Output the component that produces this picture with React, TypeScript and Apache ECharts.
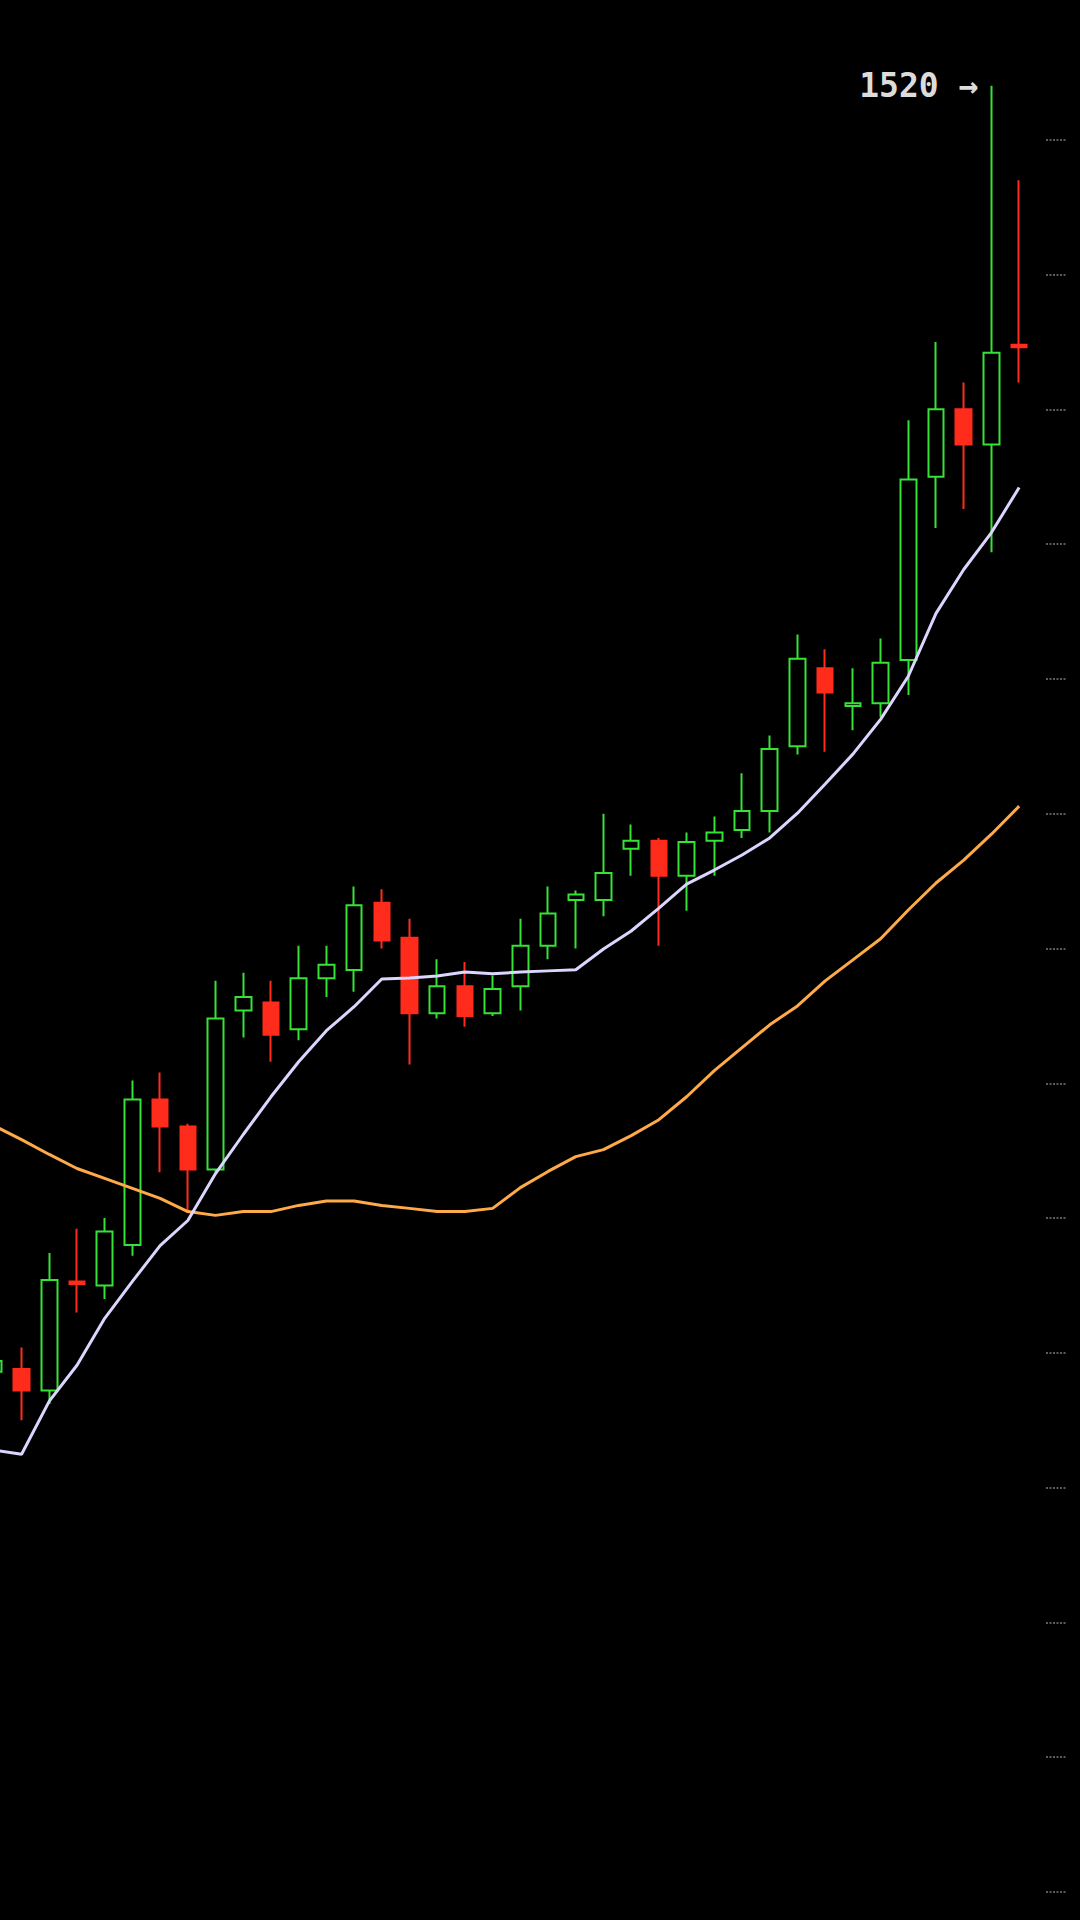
import React, { useEffect, useRef } from "react";
import * as echarts from "echarts";

const days = [
  "1", "2", "3", "4", "5", "6", "7", "8", "9", "10",
  "11", "12", "13", "14", "15", "16", "17", "18", "19", "20",
  "21", "22", "23", "24", "25", "26", "27", "28", "29", "30",
  "31", "32", "33", "34", "35", "36", "37", "38",
];

// [open, close, low, high]
const candles = [
  [1043, 1047, 1039, 1051],
  [1044, 1036, 1025, 1052],
  [1036, 1077, 1031, 1087],
  [1076.5, 1075.5, 1065, 1096],
  [1075, 1095, 1070, 1100],
  [1090, 1144, 1086, 1151],
  [1144, 1134, 1117, 1154],
  [1134, 1118, 1102, 1135],
  [1118, 1174, 1117, 1188],
  [1177, 1182, 1167, 1191],
  [1180, 1168, 1158, 1188],
  [1170, 1189, 1166, 1201],
  [1189, 1194, 1182, 1201],
  [1192, 1216, 1184, 1223],
  [1217, 1203, 1200, 1222],
  [1204, 1176, 1157, 1211],
  [1176, 1186, 1174, 1196],
  [1186, 1175, 1171, 1195],
  [1176, 1185, 1175, 1190],
  [1186, 1201, 1177, 1211],
  [1201, 1213, 1196, 1223],
  [1218, 1220, 1200, 1221.5],
  [1218, 1228, 1212, 1250],
  [1237, 1240, 1227, 1246],
  [1240, 1227, 1201, 1241],
  [1227, 1239.5, 1214, 1243],
  [1240, 1243, 1227, 1249],
  [1244, 1251, 1241, 1265],
  [1251, 1274, 1243, 1279],
  [1275, 1307.5, 1272, 1316.5],
  [1304, 1295, 1273, 1311],
  [1290, 1291, 1281, 1304],
  [1291, 1306, 1286, 1315],
  [1307, 1374, 1294, 1396],
  [1375, 1400, 1356, 1425],
  [1400, 1387, 1363, 1410],
  [1387, 1421, 1347, 1520],
  [1424, 1423, 1410, 1485],
];

const maFast = [
  1013.9, 1012.4, 1032.1, 1045.4, 1062.8, 1076.5, 1089.8, 1099.1, 1116.5, 1131.0,
  1145.0, 1158.0, 1169.5, 1178.4, 1188.7, 1189.1, 1189.8, 1191.3, 1190.6, 1191.3,
  1191.7, 1192.1, 1199.8, 1206.5, 1215.0, 1223.9, 1229.1, 1234.7, 1241.0, 1250.2,
  1261.0, 1272.1, 1285.0, 1301.0, 1324.3, 1340.6, 1354.3, 1371.0,
];

const maSlow = [
  1134.3, 1129.1, 1123.6, 1118.4, 1114.7, 1111.0, 1107.3, 1102.4, 1101.0, 1102.4,
  1102.4, 1104.7, 1106.3, 1106.3, 1104.7, 1103.6, 1102.4, 1102.4, 1103.6, 1111.3,
  1117.3, 1122.8, 1125.4, 1130.6, 1136.5, 1145.0, 1154.7, 1163.2, 1171.7, 1178.7,
  1188.0, 1195.8, 1203.6, 1214.3, 1224.3, 1232.8, 1242.4, 1252.8,
];

const yTicks = [850, 900, 950, 1000, 1050, 1100, 1150, 1200, 1250, 1300, 1350, 1400, 1450, 1500];

const UP = "#36e236";
const DOWN = "#ff2c1c";

const App: React.FC = () => {
  const chartRef = useRef<HTMLDivElement>(null);

  useEffect(() => {
    document.body.style.margin = "0";
    document.body.style.background = "#000";
    if (!chartRef.current) return;
    const chart = echarts.init(chartRef.current, null, { renderer: "svg" });

    chart.setOption({
      animation: false,
      backgroundColor: "#000000",
      // the chart box starts 20.5px left of the page so the first candle is cut off
      grid: { left: 0, right: 48, top: 5, bottom: 28 },
      xAxis: {
        type: "category",
        data: days,
        boundaryGap: true,
        axisLine: { show: false },
        axisTick: { show: false },
        axisLabel: { show: false },
        splitLine: { show: false },
      },
      yAxis: {
        type: "value",
        position: "right",
        offset: 13,
        min: 850,
        max: 1550,
        interval: 50,
        axisLine: { show: false },
        axisLabel: { show: false },
        splitLine: { show: false },
        axisTick: {
          show: true,
          inside: false,
          length: 20,
          customValues: yTicks,
          lineStyle: { color: "#7a7a7a", width: 1.5, type: [2, 1.5] },
        },
      },
      series: [
        {
          type: "candlestick",
          data: candles,
          barWidth: 16,
          itemStyle: {
            color: "#000000",
            color0: DOWN,
            borderColor: UP,
            borderColor0: DOWN,
            borderWidth: 2,
          },
          markPoint: {
            symbol: "circle",
            symbolSize: 2,
            itemStyle: { color: "rgba(0,0,0,0)" },
            label: {
              show: true,
              position: "left",
              distance: 12,
              formatter: (p: any) => `${p.value} →`,
              color: "#dcdcdc",
              fontFamily: "DejaVu Sans Mono",
              fontWeight: "bold",
              fontSize: 33,
            },
            data: [{ type: "max", valueDim: "highest" }],
          },
        },
        {
          type: "line",
          data: maSlow,
          showSymbol: false,
          lineStyle: { color: "#ffaa48", width: 3 },
        },
        {
          type: "line",
          data: maFast,
          showSymbol: false,
          lineStyle: { color: "#dcd6ff", width: 3 },
        },
      ],
    });

    return () => {
      chart.dispose();
    };
  }, []);

  return (
    <div style={{ position: "absolute", left: 0, top: 0, width: 1080, height: 1920, overflow: "hidden", background: "#000" }}>
      <div
        ref={chartRef}
        style={{ position: "absolute", left: -20.5, top: 0, width: 1100.5, height: 1920 }}
      />
    </div>
  );
};

export default App;
